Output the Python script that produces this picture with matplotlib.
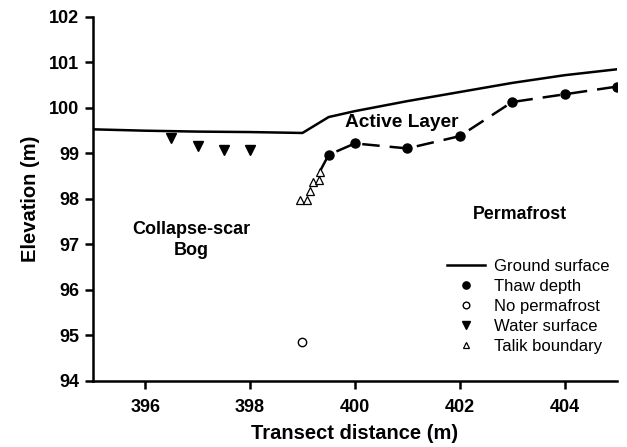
import matplotlib
matplotlib.use('Agg')
from matplotlib import pyplot as plt
import numpy as np

plt.rcParams['font.family'] = ['Liberation Sans', 'DejaVu Sans']

# Ground surface elevation along transect
ground_x = [395, 396, 397, 398, 399, 399.5, 400, 401, 402, 403, 404, 405]
ground_y = [99.53, 99.5, 99.48, 99.47, 99.45, 99.8, 99.93, 100.15, 100.35, 100.55, 100.72, 100.85]

# Thaw depth (base of active layer)
thaw_x = [399.5, 400, 401, 402, 403, 404, 405]
thaw_y = [98.97, 99.22, 99.11, 99.38, 100.13, 100.3, 100.47]

# No permafrost found
nopf_x = [399.0]
nopf_y = [94.85]

# Water surface in the bog
water_x = [396.5, 397, 397.5, 398]
water_y = [99.33, 99.17, 99.08, 99.08]

# Talik boundary
talik_x = [398.95, 399.08, 399.15, 399.2, 399.32, 399.33]
talik_y = [97.97, 97.97, 98.18, 98.38, 98.42, 98.6]

fig = plt.figure(figsize=(6.27, 4.47), dpi=100)
ax = fig.add_axes([0.148, 0.148, 0.836, 0.814])

ax.plot(ground_x, ground_y, color='k', lw=1.8, label='Ground surface')

# dashed thaw line runs from the top of the talik through the thaw points
line_x = [talik_x[-1]] + thaw_x
line_y = [talik_y[-1]] + thaw_y
ax.plot(line_x, line_y, color='k', lw=1.8, dashes=(7, 4))
ax.plot(thaw_x, thaw_y, 'o', color='k', ms=6.5, label='Thaw depth')
ax.plot(nopf_x, nopf_y, 'o', mfc='white', mec='k', mew=1.0, ms=6, label='No permafrost')
ax.plot(water_x, water_y, 'v', color='k', ms=6.5, label='Water surface')
ax.plot(talik_x, talik_y, '^', mfc='white', mec='k', mew=0.9, ms=6, label='Talik boundary')

ax.text(400.9, 99.68, 'Active Layer', fontsize=13.8, fontweight='bold', ha='center', va='center')
ax.text(403.15, 97.65, 'Permafrost', fontsize=12.8, fontweight='bold', ha='center', va='center')
ax.text(396.87, 97.1, 'Collapse-scar\nBog', fontsize=13, fontweight='bold', ha='center', va='center',
        linespacing=1.32)

ax.set_xlim(395, 405)
ax.set_ylim(94, 102)
ax.set_xticks(np.arange(396, 405, 2))
ax.set_yticks(np.arange(94, 103, 1))

ax.spines['top'].set_visible(False)
ax.spines['right'].set_visible(False)
ax.spines['left'].set_linewidth(1.8)
ax.spines['bottom'].set_linewidth(1.8)
ax.tick_params(direction='out', length=6, width=1.8, labelsize=13, pad=4)
ax.tick_params(axis='x', pad=7)
for lab in ax.get_xticklabels() + ax.get_yticklabels():
    lab.set_fontweight('bold')

ax.set_xlabel('Transect distance (m)', fontsize=14.5, fontweight='bold', labelpad=6)
ax.set_ylabel('Elevation (m)', fontsize=14.5, fontweight='bold', labelpad=6)

ax.legend(loc='upper left', bbox_to_anchor=(0.676, 0.334), frameon=False, fontsize=12,
          handlelength=2.3, handletextpad=0.5, labelspacing=0.3, borderpad=0,
          borderaxespad=0, markerscale=0.8)

fig.savefig('out.png', dpi=100)
